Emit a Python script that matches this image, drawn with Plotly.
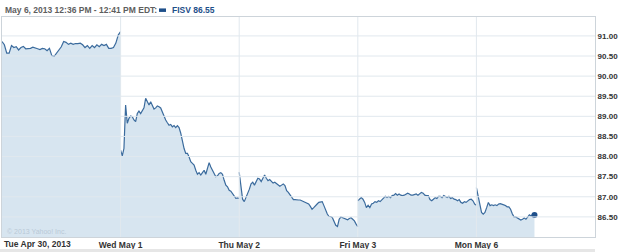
import numpy as np
import plotly.graph_objects as go

# ---- data ----
day_labels = ["Tue Apr 30, 2013", "Wed May 1", "Thu May 2", "Fri May 3", "Mon May 6"]
session_minutes = 390
last_sample_minute = [390, 390, 390, 390, 191]   # minutes after open of last sample per day

tue_apr30 = [90.86, 90.78, 90.57, 90.57, 90.76, 90.71, 90.73, 90.65, 90.71, 90.74, 90.68, 90.69,
             90.69, 90.72, 90.69, 90.68, 90.66, 90.69, 90.68, 90.63, 90.69, 90.51, 90.49, 90.57,
             90.65, 90.73, 90.86, 90.84, 90.79, 90.82, 90.79, 90.81, 90.81, 90.82, 90.78, 90.71,
             90.76, 90.69, 90.76, 90.71, 90.78, 90.73, 90.79, 90.76, 90.79, 90.69, 90.69, 90.71,
             90.82, 91.02, 91.11]
wed_may1 = [88.16, 88.02, 88.20, 89.28, 88.83, 88.95, 89.01, 88.99, 88.91, 88.87, 89.07, 89.13,
            89.07, 89.16, 89.21, 89.45, 89.38, 89.28, 89.36, 89.26, 89.18, 89.21, 89.26, 89.24,
            89.21, 89.11, 88.99, 88.91, 88.84, 88.78, 88.80, 88.74, 88.77, 88.72, 88.77, 88.72,
            88.58, 88.37, 88.20, 88.08, 88.08, 87.99, 87.87, 87.83, 87.79, 87.66, 87.56, 87.60,
            87.54, 87.60, 87.66, 87.56, 87.70, 87.85, 87.74, 87.66, 87.58, 87.50, 87.52, 87.58,
            87.60, 87.56, 87.41, 87.29, 87.25, 87.16, 87.14, 87.08, 87.00, 86.96, 86.97, 86.96]
thu_may2 = [87.61, 87.19, 86.94, 86.88, 86.98, 87.07, 87.19, 87.32, 87.36, 87.29, 87.40, 87.46,
            87.44, 87.38, 87.46, 87.54, 87.46, 87.40, 87.43, 87.38, 87.34, 87.36, 87.32, 87.28,
            87.26, 87.29, 87.32, 87.28, 87.15, 87.11, 87.04, 86.98, 86.93, 86.93, 86.92, 86.92,
            86.92, 86.90, 86.86, 86.84, 86.84, 86.82, 86.76, 86.69, 86.73, 86.79, 86.82, 86.86,
            86.88, 86.88, 86.78, 86.65, 86.57, 86.51, 86.51, 86.48, 86.38, 86.29, 86.26, 86.44,
            86.50, 86.48, 86.46, 86.46, 86.43, 86.46, 86.48, 86.44, 86.40, 86.32, 86.26]
fri_may3 = [86.90, 86.94, 86.98, 86.94, 86.86, 86.73, 86.79, 86.73, 86.82, 86.84, 86.88, 86.86,
            86.90, 86.88, 86.93, 86.96, 87.01, 86.98, 87.01, 86.98, 87.03, 87.04, 87.08, 87.04,
            87.07, 87.04, 87.03, 87.04, 87.07, 87.09, 87.07, 87.04, 87.04, 87.06, 87.07, 87.04,
            87.08, 87.11, 87.09, 87.04, 87.03, 87.03, 86.93, 86.90, 86.94, 86.98, 86.96, 87.01,
            87.01, 86.98, 87.03, 87.01, 86.98, 87.01, 86.96, 86.98, 86.94, 86.93, 86.90, 86.93,
            86.86, 86.84, 86.88, 86.86, 86.90, 86.93, 86.94, 86.90, 86.82, 86.79]
mon_may6 = [87.23, 87.03, 86.78, 86.61, 86.57, 86.61, 86.73, 86.86, 86.78, 86.80, 86.78, 86.80,
            86.78, 86.82, 86.83, 86.82, 86.80, 86.78, 86.75, 86.75, 86.69, 86.58, 86.50, 86.50,
            86.47, 86.44, 86.42, 86.44, 86.47, 86.44, 86.50, 86.55, 86.52, 86.57, 86.55]
days = [tue_apr30, wed_may1, thu_may2, fri_may3, mon_may6]

ytick_vals = [86.5, 87.0, 87.5, 88.0, 88.5, 89.0, 89.5, 90.0, 90.5, 91.0]
ticker = "FISV"
header_text = "May 6, 2013 12:36 PM - 12:41 PM EDT:"
copyright_text = "© 2013 Yahoo! Inc."

# ---- styling ----
FONT = "Liberation Sans, Arial, sans-serif"
LINE_C = "#3b6b9d"
FILL_C = "#d7e5f0"
GRID_C = "#e1e8ee"
FRAME_C = "#cdd4da"
LABEL_C = "#333333"
BLUE_C = "#1e4f8a"

fig = go.Figure()

xs_all = []
for d, prices in enumerate(days):
    t = np.linspace(0, last_sample_minute[d], len(prices)) / session_minutes
    xs_all.append(d + t)

# fills
for d, prices in enumerate(days):
    fig.add_trace(go.Scatter(x=xs_all[d], y=prices, mode="lines", line=dict(width=0),
                             fill="tozeroy", fillcolor=FILL_C, hoverinfo="skip", showlegend=False))
# lines
for d, prices in enumerate(days):
    fig.add_trace(go.Scatter(x=xs_all[d], y=prices, mode="lines",
                             line=dict(color=LINE_C, width=1.2), showlegend=False))
# last point
fig.add_trace(go.Scatter(x=[xs_all[-1][-1]], y=[mon_may6[-1]], mode="markers",
                         marker=dict(color=BLUE_C, size=6), showlegend=False))

shapes = []
for v in ytick_vals:
    shapes.append(dict(type="line", xref="x", yref="y", x0=0, x1=len(days), y0=v, y1=v,
                       line=dict(color=GRID_C, width=1), layer="above"))
for d in range(1, len(days)):
    shapes.append(dict(type="line", xref="x", yref="paper", x0=d, x1=d, y0=0, y1=1,
                       line=dict(color=GRID_C, width=1), layer="above"))
# legend swatch in header
shapes.append(dict(type="rect", xref="paper", yref="paper", x0=0.2648, x1=0.2766,
                   y0=1.023, y1=1.039, fillcolor=BLUE_C, line=dict(width=0)))
# bottom gray band
shapes.append(dict(type="rect", xref="paper", yref="paper", x0=-0.004, x1=1.0,
                   y0=-0.07, y1=-0.055, fillcolor="#e6e6e6", line=dict(width=0)))

annotations = [
    dict(text=header_text, xref="paper", yref="paper", x=0.0017, y=1.032, xanchor="left",
         yanchor="middle", showarrow=False, font=dict(family=FONT, size=8.5, color="#5e5e5e", weight="bold")),
    dict(text=f"{ticker} {mon_may6[-1]:.2f}", xref="paper", yref="paper", x=0.2833, y=1.032,
         xanchor="left", yanchor="middle", showarrow=False,
         font=dict(family=FONT, size=8.5, color=BLUE_C, weight="bold")),
    dict(text=day_labels[0], xref="x", yref="paper", x=0, y=-0.032, xanchor="left", xshift=0,
         yanchor="middle", showarrow=False, font=dict(family=FONT, size=8.5, color=LABEL_C, weight="bold")),
    dict(text=copyright_text, xref="paper", yref="paper", x=0.005, y=0.025, xanchor="left",
         yanchor="middle", showarrow=False, font=dict(family=FONT, size=7, color="#b9c9d7")),
]

fig.update_layout(
    width=625, height=252,
    margin=dict(l=2, r=30, t=17, b=15),
    paper_bgcolor="white", plot_bgcolor="white",
    shapes=shapes, annotations=annotations,
    xaxis=dict(range=[0, len(days)], tickvals=list(range(1, len(days))), ticktext=day_labels[1:],
               showgrid=False, zeroline=False, ticks="", showline=True, linecolor=FRAME_C, mirror=True,
               tickfont=dict(family=FONT, size=8.5, color=LABEL_C, weight="bold"), fixedrange=True),
    yaxis=dict(range=[86.0, 91.47], side="right", tickvals=ytick_vals,
               ticktext=[f"{v:.2f}" for v in ytick_vals], showgrid=False, zeroline=False, ticks="",
               showline=True, linecolor=FRAME_C, mirror=True,
               tickfont=dict(family=FONT, size=8, color=LABEL_C, weight="bold"), fixedrange=True),
)

fig.write_html("out.html")
